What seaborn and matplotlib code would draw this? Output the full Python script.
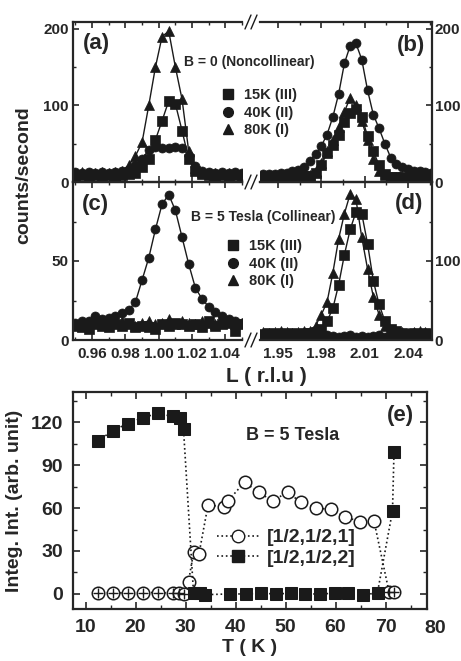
import matplotlib
matplotlib.use('Agg')
import matplotlib.pyplot as plt
import matplotlib.transforms as mtransforms
from matplotlib.lines import Line2D
from matplotlib.ticker import MultipleLocator, FixedLocator
import seaborn as sns

# ---- scan data, L near 1 (panels a, c) ----
L_left = [0.950, 0.954, 0.958, 0.962, 0.966, 0.970, 0.974, 0.978, 0.982, 0.986,
          0.990, 0.994, 0.998, 1.002, 1.006, 1.010, 1.014, 1.018, 1.022, 1.026,
          1.030, 1.034, 1.038, 1.042, 1.046, 1.050]
a_15K = [8, 9, 8, 9, 8, 9, 8, 9, 10, 12, 20, 30, 55, 80, 106, 102, 67, 30, 14, 10, 9, 8, 9, 8, 9, 8]
a_40K = [13, 12, 13, 12, 13, 12, 13, 14, 16, 22, 30, 42, 46, 45, 44, 46, 45, 34, 21, 15, 13, 12, 13, 12, 13, 12]
a_80K = [12, 13, 11, 12, 13, 12, 13, 15, 22, 34, 52, 100, 150, 190, 197, 150, 108, 40, 18, 13, 12, 12, 11, 12, 12, 11]
c_15K = [9, 8, 7, 10, 9, 8, 10, 9, 11, 8, 9, 8, 7, 10, 9, 11, 10, 9, 10, 8, 12, 9, 10, 11, 6, 10]
c_40K = [11, 12, 12, 15, 13, 14, 15, 17, 19, 24, 38, 52, 70, 86, 92, 82, 65, 48, 33, 26, 21, 18, 15, 13, 12, 11]
c_80K = [10, 9, 11, 12, 10, 13, 11, 12, 10, 9, 11, 12, 10, 11, 13, 10, 12, 11, 10, 12, 11, 10, 11, 12, 10, 11]

# ---- scan data, L near 2 (panels b, d) ----
L_right = [1.940, 1.944, 1.948, 1.952, 1.956, 1.960, 1.964, 1.968, 1.972, 1.976,
           1.980, 1.984, 1.988, 1.992, 1.996, 2.000, 2.004, 2.008, 2.012, 2.016,
           2.020, 2.024, 2.028, 2.032, 2.036, 2.040, 2.044, 2.048, 2.052, 2.056]
b_15K = [6, 5, 6, 7, 6, 7, 6, 8, 8, 12, 22, 38, 48, 62, 78, 90, 95, 85, 60, 40, 22, 10, 7, 6, 6, 5, 6, 5, 6, 5]
b_40K = [10, 11, 11, 12, 12, 14, 16, 19, 28, 36, 47, 62, 85, 115, 155, 178, 181, 160, 120, 88, 70, 50, 32, 24, 20, 17, 15, 14, 13, 12]
b_80K = [6, 7, 6, 7, 6, 7, 6, 7, 9, 14, 25, 40, 55, 72, 92, 110, 100, 80, 55, 30, 14, 9, 7, 6, 7, 6, 6, 7, 6, 6]
d_15K = [8, 9, 8, 9, 8, 9, 8, 9, 9, 10, 14, 24, 40, 70, 108, 140, 162, 160, 122, 75, 45, 24, 14, 11, 9, 8, 9, 8, 9, 8]
d_40K = [4, 5, 3, 5, 4, 6, 4, 5, 3, 5, 4, 6, 5, 4, 5, 6, 4, 5, 4, 5, 6, 4, 5, 3, 5, 4, 5, 4, 6, 4]
d_80K = [10, 9, 10, 11, 10, 9, 10, 11, 12, 18, 32, 48, 85, 128, 160, 185, 178, 130, 90, 55, 32, 18, 12, 10, 10, 9, 10, 11, 10, 9]

scan_labels = ['15K (III)', '40K (II)', '80K (I)']
scan_markers = ['s', 'o', '^']

# ---- integrated intensity vs T (panel e) ----
T_h1 = [12.5, 15.5, 18.4, 21.4, 24.4, 27.4, 28.6, 29.6, 30.6, 31.6, 32.7, 34.5, 37.7, 38.5,
        41.8, 44.6, 47.4, 50.4, 53.1, 56.1, 59.0, 61.8, 64.8, 67.7, 70.7, 71.7]
I_h1 = [0.5, 1, 0.5, 1, 1, 0.5, 0.5, 0, 8.5, 29, 28, 62, 61, 65,
        78, 71, 65, 71, 64, 60, 59, 54, 50.5, 51, 1.5, 1.5]
T_h2 = [12.5, 15.5, 18.4, 21.4, 24.4, 27.4, 28.8, 29.6, 31.6, 32.8, 33.8, 38.8, 42.1, 45.1,
        48.1, 51.1, 53.9, 56.9, 59.9, 62.5, 65.4, 68.4, 71.4, 71.7]
I_h2 = [107, 114, 119, 123, 126, 124, 123, 115, 1, 1, -0.5, 0, 0, 0.5,
        0, 0.5, 0, 0, 0.5, 1, -1, 1, 58, 99]
refl_labels = ['[1/2,1/2,1]', '[1/2,1/2,2]']

sns.set_theme(style='ticks')
plt.rcParams['font.family'] = ['Liberation Sans', 'DejaVu Sans']
plt.rcParams['font.weight'] = 'bold'
plt.rcParams['axes.labelweight'] = 'bold'
plt.rcParams['axes.linewidth'] = 1.6
plt.rcParams['xtick.direction'] = 'in'
plt.rcParams['ytick.direction'] = 'in'

W, H = 461, 661
fig = plt.figure(figsize=(W / 100, H / 100), dpi=100)


def box(l, t, r, b):
    return [l / W, 1 - b / H, (r - l) / W, (b - t) / H]


ax_a = fig.add_axes(box(73, 22, 242, 182))
ax_b = fig.add_axes(box(260, 22, 432, 182))
ax_c = fig.add_axes(box(73, 182, 242, 340))
ax_d = fig.add_axes(box(260, 182, 432, 340))
ax_e = fig.add_axes(box(73, 392, 427, 609))


def scans(ax, x, ys):
    for y, m in zip(ys, scan_markers):
        sns.lineplot(x=x, y=y, ax=ax, color='k', linewidth=1.0, marker=m,
                     markersize=6.5, markeredgecolor='k', markeredgewidth=0.5,
                     estimator=None, sort=False, legend=False)


scans(ax_a, L_left, [a_15K, a_40K, a_80K])
scans(ax_c, L_left, [c_15K, c_40K, c_80K])
scans(ax_b, L_right, [b_15K, b_40K, b_80K])
scans(ax_d, L_right, [d_15K, d_40K, d_80K])

for ax in (ax_a, ax_c):
    ax.set_xlim(0.9485, 1.050)
    ax.xaxis.set_major_locator(FixedLocator([0.96, 0.98, 1.00, 1.02, 1.04]))
    ax.xaxis.set_minor_locator(MultipleLocator(0.01))
    ax.spines['right'].set_visible(False)
    ax.tick_params(axis='y', which='both', left=True, right=False, labelleft=True, pad=3)
for ax in (ax_b, ax_d):
    ax.set_xlim(1.9376, 2.0566)
    ax.xaxis.set_major_locator(FixedLocator([1.95, 1.98, 2.01, 2.04]))
    ax.xaxis.set_minor_locator(MultipleLocator(0.015))
    ax.spines['left'].set_visible(False)
    ax.tick_params(axis='y', which='both', left=False, right=True, labelleft=False,
                   labelright=True, pad=2)

for ax in (ax_a, ax_b, ax_c, ax_d):
    ax.set_facecolor('none')
    ax.set_xlabel('')
    ax.set_ylabel('')
    ax.tick_params(axis='x', which='both', top=True, bottom=True)
    ax.tick_params(which='major', length=4, width=1.2, labelsize=11)
    ax.tick_params(which='minor', length=2.5, width=1.0)
for ax in (ax_a, ax_b):
    ax.set_ylim(0, 209)
    ax.yaxis.set_major_locator(MultipleLocator(100))
    ax.yaxis.set_minor_locator(MultipleLocator(50))
    ax.tick_params(axis='x', labelbottom=False)
for ax in (ax_c, ax_d):
    ax.tick_params(axis='x', labelbottom=True, pad=5)
ax_c.set_ylim(0, 100)
ax_c.yaxis.set_major_locator(FixedLocator([0, 50]))
ax_c.yaxis.set_minor_locator(FixedLocator([25, 75]))
ax_d.set_ylim(0, 200)
ax_d.yaxis.set_major_locator(FixedLocator([0, 100]))
ax_d.yaxis.set_minor_locator(FixedLocator([50, 150]))

# broken-axis marks
for y0 in (22, 182, 340):
    for dx in (0, 6):
        fig.add_artist(Line2D([(245 + dx) / W, (251 + dx) / W],
                              [1 - (y0 + 7) / H, 1 - (y0 - 7) / H],
                              transform=fig.transFigure, color='k', lw=1.0))

fig.text(96 / W, 1 - 44 / H, '(a)', fontsize=16, ha='center', va='center')
fig.text(411 / W, 1 - 46 / H, '(b)', fontsize=16, ha='center', va='center')
fig.text(95 / W, 1 - 205 / H, '(c)', fontsize=16, ha='center', va='center')
fig.text(409 / W, 1 - 203 / H, '(d)', fontsize=16, ha='center', va='center')
fig.text(249 / W, 1 - 62 / H, 'B = 0 (Noncollinear)', fontsize=10, ha='center', va='center')
fig.text(263 / W, 1 - 217 / H, 'B = 5 Tesla (Collinear)', fontsize=10, ha='center', va='center')

scan_handles = [Line2D([], [], ls='none', marker=m, color='k', ms=7) for m in scan_markers]
for x0, y0 in ((221, 88), (226, 239)):
    fig.legend(scan_handles, scan_labels, loc='upper left',
               bbox_to_anchor=(x0 / W, 1 - y0 / H), frameon=False, fontsize=10.5,
               handlelength=1.0, handletextpad=0.6, labelspacing=0.25, borderpad=0,
               borderaxespad=0)

fig.text(24 / W, 1 - 175 / H, 'counts/second', fontsize=14, rotation=90,
         ha='center', va='center')
fig.text(266 / W, 1 - 377 / H, 'L ( r.l.u )', fontsize=15, ha='center', va='center')

# ---- panel (e) ----
sns.lineplot(x=T_h1, y=I_h1, ax=ax_e, color='k', linestyle=':', linewidth=1.2,
             marker='o', markersize=9, markerfacecolor='white', markeredgecolor='k',
             markeredgewidth=1.1, estimator=None, sort=False, legend=False)
low = [(t, v) for t, v in zip(T_h1, I_h1) if v < 5]
sns.scatterplot(x=[p[0] for p in low], y=[p[1] for p in low], ax=ax_e, marker='+',
                color='k', s=45, linewidth=1.0, legend=False, zorder=3)
sns.lineplot(x=T_h2, y=I_h2, ax=ax_e, color='k', linestyle=':', linewidth=1.2,
             marker='s', markersize=8.5, markeredgecolor='k', estimator=None,
             sort=False, legend=False)

ax_e.set_xlim(7.5, 78.3)
ax_e.set_ylim(-10.5, 141)
ax_e.xaxis.set_major_locator(FixedLocator([10, 20, 30, 40, 50, 60, 70]))
ax_e.xaxis.set_minor_locator(MultipleLocator(5))
ax_e.yaxis.set_major_locator(MultipleLocator(30))
ax_e.yaxis.set_minor_locator(MultipleLocator(15))
ax_e.tick_params(which='both', top=True, right=True)
ax_e.tick_params(which='major', length=5, width=1.2, labelsize=14, pad=7)
ax_e.tick_params(which='minor', length=3, width=1.0)
ax_e.set_xlabel('T ( K )', fontsize=14, fontweight='bold', labelpad=2)
ax_e.set_ylabel('Integ. Int. (arb. unit)', fontsize=14, fontweight='bold', labelpad=6)
trans = mtransforms.blended_transform_factory(ax_e.transData, ax_e.transAxes)
ax_e.text(80, -0.088, '80', transform=trans, fontsize=14, ha='center', va='center',
          clip_on=False)
ax_e.text(0.925, 0.89, '(e)', transform=ax_e.transAxes, fontsize=16, ha='center', va='center')
ax_e.text(0.62, 0.80, 'B = 5 Tesla', transform=ax_e.transAxes, fontsize=13,
          ha='center', va='center')

refl_handles = [
    Line2D([], [], ls=':', lw=1.2, color='k', marker='o', ms=9, mfc='white', mec='k'),
    Line2D([], [], ls=':', lw=1.2, color='k', marker='s', ms=8.5),
]
ax_e.legend(refl_handles, refl_labels, loc='upper left', bbox_to_anchor=(0.407, 0.37),
            frameon=False, fontsize=14, handlelength=2.2, handletextpad=0.35,
            labelspacing=0.15, borderpad=0, borderaxespad=0)

fig.savefig('out.png', dpi=100)
